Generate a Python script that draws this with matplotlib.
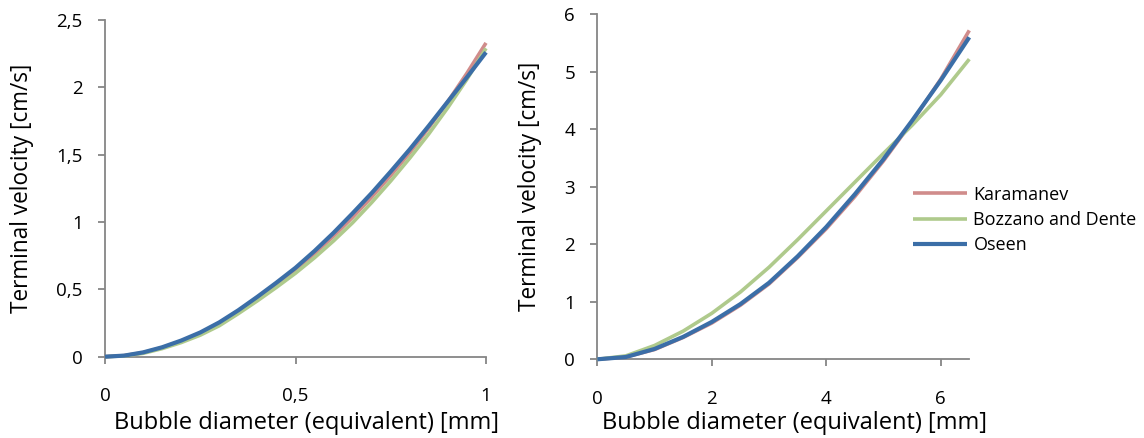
import matplotlib
matplotlib.use("Agg")
import matplotlib.pyplot as plt

plt.rcParams["font.family"] = ["Open Sans", "DejaVu Sans"]

# Small-bubble range (left panel)
d_small = [0.0, 0.05, 0.1, 0.15, 0.2, 0.25, 0.3, 0.35, 0.4, 0.45, 0.5,
           0.55, 0.6, 0.65, 0.7, 0.75, 0.8, 0.85, 0.9, 0.95, 1.0]
karamanev_small = [0.0, 0.008, 0.03, 0.067, 0.115, 0.175, 0.25, 0.335, 0.43, 0.535, 0.645,
                   0.765, 0.895, 1.035, 1.185, 1.345, 1.515, 1.70, 1.895, 2.105, 2.33]
bozzano_small = [0.0, 0.006, 0.025, 0.06, 0.105, 0.16, 0.23, 0.32, 0.415, 0.515, 0.62,
                 0.735, 0.86, 0.995, 1.145, 1.305, 1.475, 1.655, 1.85, 2.06, 2.29]
oseen_small = [0.0, 0.008, 0.032, 0.07, 0.12, 0.18, 0.255, 0.345, 0.445, 0.55, 0.66,
               0.785, 0.92, 1.065, 1.215, 1.375, 1.54, 1.715, 1.895, 2.075, 2.26]

# Larger-bubble range (right panel)
d_large = [0.0, 0.5, 1.0, 1.5, 2.0, 2.5, 3.0, 3.5, 4.0, 4.5, 5.0, 5.5, 6.0, 6.5]
karamanev_large = [0.0, 0.04, 0.17, 0.38, 0.63, 0.94, 1.31, 1.77, 2.27, 2.83, 3.45, 4.13, 4.87, 5.72]
bozzano_large = [0.0, 0.06, 0.24, 0.49, 0.80, 1.17, 1.60, 2.08, 2.58, 3.08, 3.58, 4.07, 4.60, 5.22]
oseen_large = [0.0, 0.04, 0.18, 0.39, 0.65, 0.96, 1.33, 1.79, 2.30, 2.87, 3.48, 4.15, 4.85, 5.60]

series_names = ["Karamanev", "Bozzano and Dente", "Oseen"]
series_colors = ["#D08C8B", "#AFCA8C", "#3B6EA7"]
series_widths = [2.6, 2.6, 3.0]

left_xticks = [0, 0.5, 1]
left_xticklabels = ["0", "0,5", "1"]
left_yticks = [0, 0.5, 1, 1.5, 2, 2.5]
left_yticklabels = ["0", "0,5", "1", "1,5", "2", "2,5"]
right_xticks = [0, 2, 4, 6]
right_xticklabels = ["0", "2", "4", "6"]
right_yticks = [0, 1, 2, 3, 4, 5, 6]
right_yticklabels = ["0", "1", "2", "3", "4", "5", "6"]

xlabel_text = "Bubble diameter (equivalent) [mm]"
ylabel_text = "Terminal velocity [cm/s]"

W, H = 1144, 438
fig = plt.figure(figsize=(W / 100, H / 100), dpi=100)
ax1 = fig.add_axes([105 / W, (H - 356.7) / H, 381 / W, 336.7 / H])
ax2 = fig.add_axes([597.3 / W, (H - 359.3) / H, 372 / W, 345 / H])

axis_grey = "#868686"
xlabel_size = 17
ylabel_size = 16.3
tick_size = 13.5


def style_axes(ax):
    for side in ("top", "right"):
        ax.spines[side].set_visible(False)
    for side in ("left", "bottom"):
        ax.spines[side].set_color(axis_grey)
        ax.spines[side].set_linewidth(1.3)
    ax.tick_params(axis="both", direction="out", length=5, width=1.3,
                   color=axis_grey, labelsize=tick_size, labelcolor="black")
    ax.tick_params(axis="y", pad=11)
    ax.tick_params(axis="x", pad=17)


def draw_series(ax, x, ys):
    lines = []
    for y, name, c, lw in zip(ys, series_names, series_colors, series_widths):
        ln, = ax.plot(x, y, color=c, lw=lw, label=name, solid_joinstyle="round",
                      solid_capstyle="butt", clip_on=False, zorder=3)
        lines.append(ln)
    return lines


style_axes(ax1)
draw_series(ax1, d_small, [karamanev_small, bozzano_small, oseen_small])
ax1.set_xlim(0, 1)
ax1.set_ylim(0, 2.5)
ax1.set_xticks(left_xticks)
ax1.set_xticklabels(left_xticklabels)
ax1.set_yticks(left_yticks)
ax1.set_yticklabels(left_yticklabels)
ax1.set_xlabel(xlabel_text, fontsize=xlabel_size, va="center")
ax1.xaxis.set_label_coords(0.53, (356.7 - 423) / 336.7)
ax1.set_ylabel(ylabel_text, fontsize=ylabel_size, va="center")
ax1.yaxis.set_label_coords((22 - 105) / 381, 0.5)

style_axes(ax2)
handles = draw_series(ax2, d_large, [karamanev_large, bozzano_large, oseen_large])
ax2.set_xlim(0, 6.5)
ax2.set_ylim(0, 6)
ax2.set_xticks(right_xticks)
ax2.set_xticklabels(right_xticklabels)
ax2.set_yticks(right_yticks)
ax2.set_yticklabels(right_yticklabels)
ax2.set_xlabel(xlabel_text, fontsize=xlabel_size, va="center")
ax2.xaxis.set_label_coords(0.53, (359.3 - 423) / 345)
ax2.set_ylabel(ylabel_text, fontsize=ylabel_size, va="center")
ax2.yaxis.set_label_coords((530 - 597.3) / 372, 0.5)

fig.legend(handles, series_names, loc="center left",
           bbox_to_anchor=(913 / W, (H - 220) / H), bbox_transform=fig.transFigure,
           frameon=False, borderpad=0, borderaxespad=0, handlelength=3.0,
           handletextpad=0.35, labelspacing=0.4, fontsize=13)

fig.savefig("out.png", dpi=100)
